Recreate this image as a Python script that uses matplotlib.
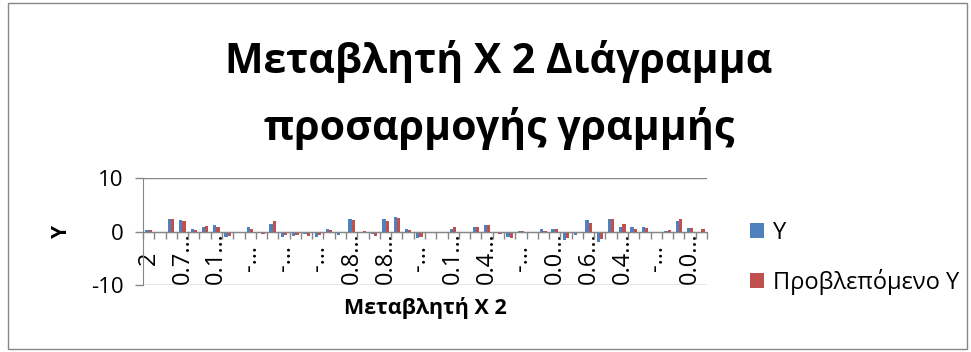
import numpy as np
import matplotlib.pyplot as plt
from matplotlib.patches import Rectangle

plt.rcParams['font.family'] = ['Open Sans', 'DejaVu Sans']
plt.rcParams['axes.unicode_minus'] = False

y_actual = [0.2, 0.0, 2.3, 2.1, 0.5, 0.75, 1.25, -1.1, 0.0, 0.75,
            -0.1, 1.45, -1.05, -0.75, -0.45, -1.05, 0.4, -0.6, 2.25, 0.0,
            -0.4, 2.25, 2.8, 0.5, -1.25, 0.0, 0.0, 0.4, 0.0, 0.9,
            1.25, 0.0, -0.95, 0.05, 0.0, 0.4, 0.55, -1.5, -0.6, 2.1,
            -2.0, 2.25, 0.9, 0.8, 0.85, -0.25, 0.15, 1.9, 0.7, 0.0]
y_pred = [0.3, 0.0, 2.3, 2.0, 0.3, 0.95, 0.8, -0.8, -0.1, 0.4,
          -0.4, 1.95, -0.6, -0.6, -0.9, -0.6, 0.2, 0.0, 2.2, 0.1,
          -0.9, 2.05, 2.5, 0.25, -1.1, -0.3, 0.0, 0.9, -0.35, 0.9,
          1.3, -0.5, -1.15, 0.1, 0.0, 0.1, 0.5, -1.15, -0.35, 1.65,
          -1.4, 2.25, 1.35, 0.4, 0.7, -0.3, 0.2, 2.4, 0.6, 0.55]
x_labels = ['2', '0.7…', '0.1…', '-…', '-…', '-…', '0.8…', '0.8…', '-…',
            '0.1…', '0.4…', '-…', '0.0…', '0.6…', '0.4…', '-…', '0.0…']
label_step = 3

blue = '#4F81BD'
red = '#C0504D'
gray = '#868686'

fig = plt.figure(figsize=(9.71, 3.52), dpi=100)
fig.patches.append(Rectangle((8 / 971, 3 / 352), 959 / 971, 346 / 352,
                             transform=fig.transFigure, fill=False,
                             edgecolor=gray, lw=1))

ax = fig.add_axes([143 / 971, 67 / 352, 564 / 971, 107 / 352])

n = len(y_actual)
x = np.arange(n)
w = 1 / 3.5
ax.bar(x - w / 2, y_actual, width=w, color=blue, label='Y')
ax.bar(x + w / 2, y_pred, width=w, color=red, label='Προβλεπόμενο Y')

ax.set_xlim(-0.5, n - 0.5)
ax.set_ylim(-10, 10)
ax.set_yticks([-10, 0, 10])
ax.set_xticks(np.arange(0, n, label_step), x_labels)
ax.set_xticks(np.arange(-0.5, n, 1), minor=True)

for s in ['top', 'right']:
    ax.spines[s].set_visible(False)
ax.spines['bottom'].set_position(('data', 0))
ax.spines['bottom'].set_color(gray)
ax.spines['left'].set_color(gray)

ax.tick_params(axis='x', which='major', length=0, pad=19, labelsize=17,
               labelrotation=90)
ax.tick_params(axis='x', which='minor', length=5, color=gray, width=1)
ax.tick_params(axis='y', length=6, color=gray, width=1, pad=8, labelsize=16)
for lab in ax.get_xticklabels():
    lab.set_va('center')

ax.yaxis.grid(True, color=gray, lw=1)
ax.set_axisbelow(True)

ax.set_ylabel('Y', fontsize=15, fontweight='bold')
ax.yaxis.set_label_coords((72 - 143) / 564, 0.5)
fig.text(425 / 971, 1 - 308 / 352, 'Μεταβλητή Χ 2', ha='center', va='center',
         fontsize=15.5, fontweight='bold')

fig.text(499 / 971, 1 - 95 / 352, 'Μεταβλητή Χ 2 Διάγραμμα\nπροσαρμογής γραμμής',
         ha='center', va='center', fontsize=29.5, fontweight='bold',
         linespacing=1.7)

fig.legend(loc='center left', bbox_to_anchor=(729 / 971, 1 - 258 / 352),
           frameon=False, fontsize=17, handlelength=0.6, handleheight=0.6,
           handletextpad=0.35, labelspacing=1.0)

fig.savefig('out.png', dpi=100)
